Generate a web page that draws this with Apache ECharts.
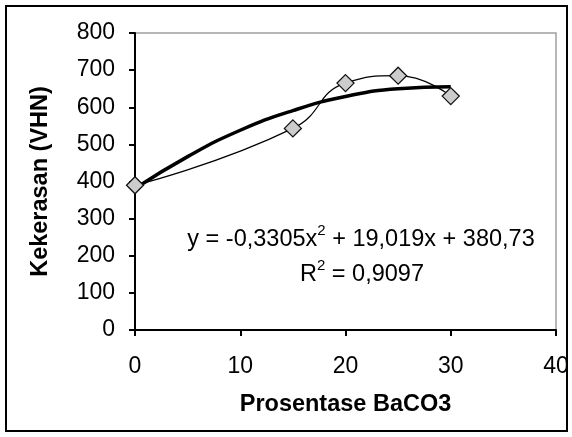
<!DOCTYPE html>
<html>
<head>
<meta charset="utf-8">
<title>Kekerasan vs BaCO3</title>
<script src="https://cdn.jsdelivr.net/npm/echarts@6/dist/echarts.min.js"></script>
<style>
    html, body { margin: 0; padding: 0; background: #fff; }
    #main { width: 572px; height: 437px; }
</style>
</head>
<body>
<div id="main"></div>
<script type="text/javascript">
    // data titik pengukuran
    var prosentase = [0, 15, 20, 25, 30];
    var kekerasan = [390, 543, 665, 685, 630];
    // garis trendline (polinomial orde 2)
    var trendX = [0, 5, 10, 15, 20, 25, 30];
    var trendY = [381, 467, 538, 591, 629, 650, 655];
    var persamaan = 'y = -0,3305x{sup|2} + 19,019x + 380,73';
    var rKuadrat = 'R{sup|2} = 0,9097';

    var font = 'Liberation Sans, Arial, sans-serif';

    function pasang(xs, ys) {
        var out = [];
        xs.forEach(function (v, k) {
            out.push([v, ys[k]]);
        });
        return out;
    }

    // gaya teks persamaan dengan pangkat
    function teks(str, x, y) {
        return {
            type: 'text',
            x: x,
            y: y,
            style: {
                text: str,
                fontFamily: font,
                fontSize: 23.5,
                lineHeight: 33,
                fill: '#000',
                align: 'center',
                verticalAlign: 'middle',
                rich: {
                    sup: { fontFamily: font, fontSize: 15, lineHeight: 15, verticalAlign: 'top', fill: '#000' }
                }
            }
        };
    }

    var myChart = echarts.init(document.getElementById('main'));
    var option = {
        animation: false,
        backgroundColor: '#fff',
        grid: {
            left: 135,
            right: 16,
            top: 33,
            bottom: 107,
            show: true,
            borderColor: '#a0a0a0',
            borderWidth: 1.5,
            backgroundColor: 'transparent'
        },
        xAxis: {
            type: 'value',
            min: 0,
            max: 40,
            interval: 10,
            name: 'Prosentase BaCO3',
            nameLocation: 'middle',
            nameGap: 63,
            nameTextStyle: { fontFamily: font, fontSize: 23.5, fontWeight: 'bold', color: '#000' },
            axisLine: { show: true, lineStyle: { color: '#000', width: 2 } },
            axisTick: { show: true, inside: false, length: 6, lineStyle: { color: '#000', width: 2 } },
            axisLabel: { margin: 25, fontFamily: font, fontSize: 23, color: '#000' },
            splitLine: { show: false }
        },
        yAxis: {
            type: 'value',
            min: 0,
            max: 800,
            interval: 100,
            name: 'Kekerasan (VHN)',
            nameLocation: 'middle',
            nameRotate: 90,
            nameGap: 82,
            nameTextStyle: { fontFamily: font, fontSize: 23.5, fontWeight: 'bold', color: '#000' },
            axisLine: { show: true, lineStyle: { color: '#000', width: 2 } },
            axisTick: { show: true, inside: false, length: 6, lineStyle: { color: '#000', width: 2 } },
            axisLabel: { margin: 20, fontFamily: font, fontSize: 23, color: '#000' },
            splitLine: { show: false }
        },
        graphic: [
            {
                type: 'rect',
                shape: { x: 6, y: 6, width: 561, height: 425 },
                style: { fill: 'none', stroke: '#000', lineWidth: 2 },
                silent: true
            },
            teks(persamaan, 361, 240),
            teks(rKuadrat, 362, 275)
        ],
        series: [
            {
                name: 'Kekerasan',
                type: 'line',
                smooth: 0.5,
                data: pasang(prosentase, kekerasan),
                lineStyle: { color: '#000', width: 1.2 },
                symbol: 'diamond',
                symbolSize: 17,
                itemStyle: { color: '#cccccc', borderColor: '#111', borderWidth: 1.3 },
                z: 3
            },
            {
                name: 'Trendline',
                type: 'line',
                smooth: true,
                showSymbol: false,
                data: pasang(trendX, trendY),
                lineStyle: { color: '#000', width: 3.5 },
                z: 2
            }
        ]
    };
    myChart.setOption(option);
</script>
</body>
</html>
